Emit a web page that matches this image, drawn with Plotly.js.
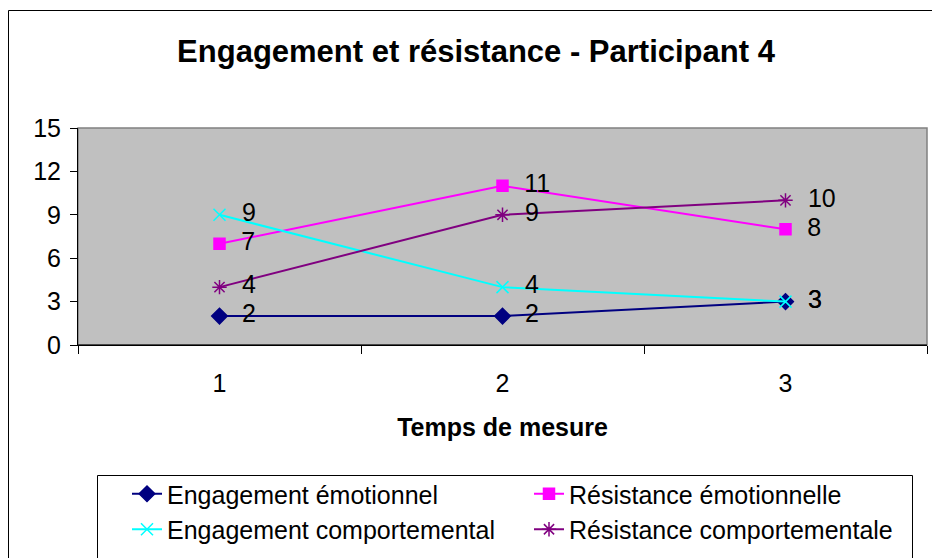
<!DOCTYPE html>
<html><head><meta charset="utf-8">
<script src="https://cdn.plot.ly/plotly-3.0.1.min.js"></script>
<style>html,body{margin:0;padding:0;background:#fff}</style>
</head><body><div id="chart" style="width:932px;height:558px"></div>
<script>
const categories = ['1', '2', '3'];
const engagementEmotionnel = [2, 2, 3];
const resistanceEmotionnelle = [7, 11, 8];
const engagementComportemental = [9, 4, 3];
const resistanceComportementale = [4, 9, 10];
const seriesNames = ['Engagement émotionnel', 'Résistance émotionnelle', 'Engagement comportemental', 'Résistance comportementale'];
const yTicks = [0, 3, 6, 9, 12, 15];

const FONT = 'Arial, "Liberation Sans", sans-serif';
function tr(name, y, color, symbol, msize) {
  return {
    type: 'scatter', mode: 'lines+markers+text', name: name,
    x: categories, y: y,
    texttemplate: '  %{y}', textposition: 'middle right',
    textfont: {family: FONT, size: 25, color: '#000'},
    line: {color: color, width: 2},
    marker: {color: color, symbol: symbol, size: msize, line: {color: color, width: 1.5}},
    cliponaxis: false
  };
}
const data = [
  tr(seriesNames[0], engagementEmotionnel, '#000080', 'diamond', 12),
  tr(seriesNames[1], resistanceEmotionnelle, '#FF00FF', 'square', 11),
  tr(seriesNames[2], engagementComportemental, '#00FFFF', 'x-thin-open', 12),
  tr(seriesNames[3], resistanceComportementale, '#800080', 'asterisk-open', 12)
];
const W = 932, H = 558;
const L = 78, R = 927, T = 128, B = 345;
const pw = R - L, ph = B - T;
const px = v => (v - L) / pw, py = v => (B - v) / ph;
const layout = {
  width: W, height: H,
  margin: {l: L, r: W - R, t: T, b: H - B, autoexpand: false},
  paper_bgcolor: '#fff', plot_bgcolor: '#C0C0C0',
  font: {family: FONT, color: '#000'},
  title: {text: 'Engagement et résistance - Participant 4', font: {family: FONT, size: 31, color: '#000', weight: 'bold'}, x: 476 / W, xref: 'container', xanchor: 'center', y: 1 - 51 / H, yref: 'container', yanchor: 'middle'},
  xaxis: {type: 'category', range: [-0.5, 2.5], tickson: 'boundaries', ticks: 'outside', ticklen: 8, tickcolor: '#000',
    showline: true, linecolor: '#000', linewidth: 1, showgrid: false, zeroline: false,
    tickfont: {family: FONT, size: 25}, ticklabelstandoff: 16,
    title: {text: 'Temps de mesure', font: {family: FONT, size: 25, weight: 'bold'}, standoff: 22}},
  yaxis: {range: [0, 15], tickvals: yTicks, ticks: 'outside', ticklen: 7, tickcolor: '#000',
    showline: true, linecolor: '#000', linewidth: 1, showgrid: false, zeroline: false,
    tickfont: {family: FONT, size: 25}, ticklabelstandoff: 4},
  showlegend: true,
  legend: {orientation: 'h', xref: 'container', yref: 'container', x: 127 / W, xanchor: 'left', y: 1 - 471 / H, yanchor: 'top',
    entrywidth: 357, entrywidthmode: 'pixels',
    borderwidth: 0, bgcolor: 'rgba(0,0,0,0)',
    font: {family: FONT, size: 25, color: '#000'}},
  shapes: [
    {type: 'rect', xref: 'paper', yref: 'paper', x0: 0, x1: 1, y0: 0, y1: 1, line: {color: '#808080', width: 1.5}, layer: 'below'},
    {type: 'line', xref: 'paper', yref: 'paper', x0: 0, x1: 1, y0: 0, y1: 0, line: {color: '#000', width: 1}},
    {type: 'rect', xref: 'paper', yref: 'paper', x0: px(8.5), x1: px(945), y0: py(600), y1: py(10.5), line: {color: '#000', width: 1}},
    {type: 'rect', xref: 'paper', yref: 'paper', x0: px(97.5), x1: px(912.5), y0: py(600), y1: py(475.5), line: {color: '#000', width: 1}}
  ]
};
Plotly.newPlot('chart', data, layout, {displayModeBar: false, staticPlot: true});
</script></body></html>
